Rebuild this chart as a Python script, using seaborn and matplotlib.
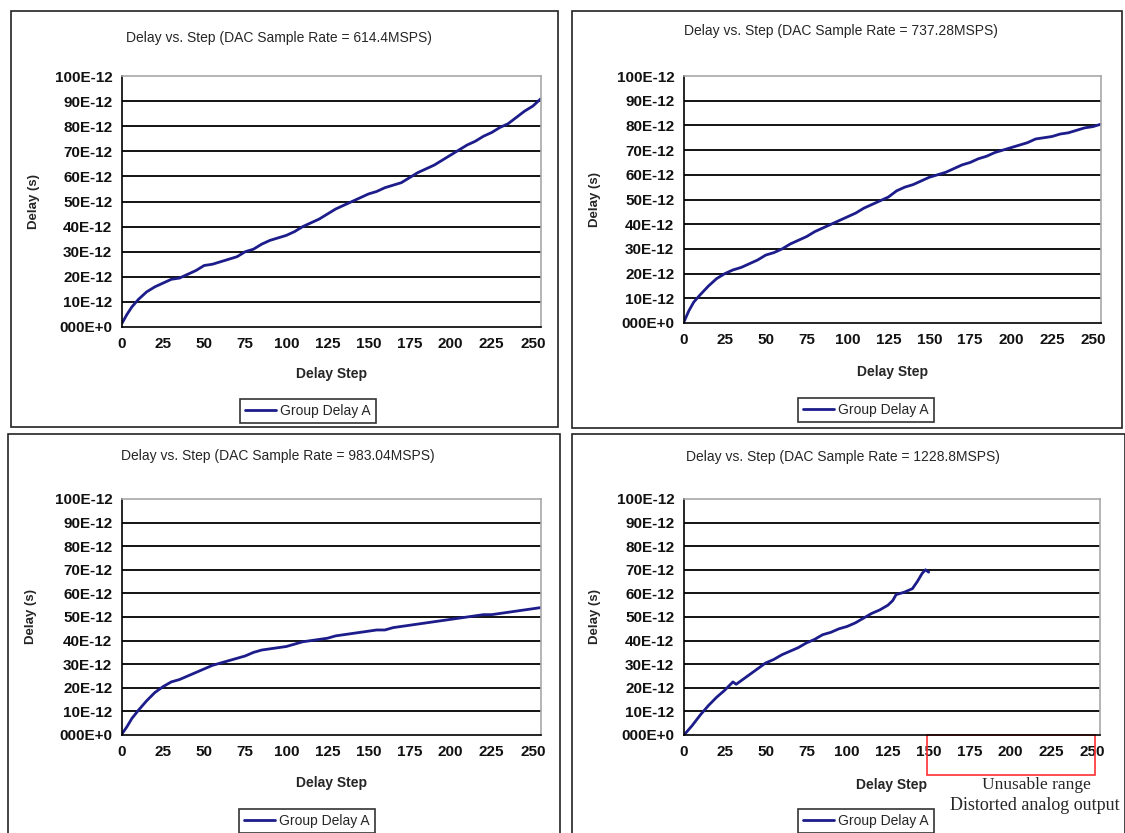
import numpy as np
import pandas as pd
import matplotlib
matplotlib.use("Agg")
import matplotlib.pyplot as plt
import matplotlib.transforms as mtransforms
from matplotlib.patches import Rectangle
import seaborn as sns

# Delay readings in picoseconds, one list pair per DAC sample rate
rate_labels = ["614.4MSPS", "737.28MSPS", "983.04MSPS", "1228.8MSPS"]

steps_a = [0, 3, 6, 10, 15, 20, 25, 30, 35, 40, 45, 50, 55, 60, 65, 70, 75, 80, 85, 90,
           95, 100, 105, 110, 115, 120, 125, 130, 135, 140, 145, 150, 155, 160, 165,
           170, 175, 180, 185, 190, 195, 200, 205, 210, 215, 220, 225, 230, 235, 240,
           245, 250, 255]
delay_614 = [1.5, 5, 8, 11, 14, 16, 17.5, 19, 19.5, 21, 22.5, 24.5, 25, 26, 27, 28, 30,
             31, 33, 34.5, 35.5, 36.5, 38, 40, 41.5, 43, 45, 47, 48.5, 50, 51.5, 53, 54,
             55.5, 56.5, 57.5, 59.5, 61.5, 63, 64.5, 66.5, 68.5, 70.5, 72.5, 74, 76,
             77.5, 79.5, 81, 83.5, 86, 88, 91]
delay_737 = [0.5, 5, 8.5, 11.5, 15, 18, 20, 21.5, 22.5, 24, 25.5, 27.5, 28.5, 30, 32,
             33.5, 35, 37, 38.5, 40, 41.5, 43, 44.5, 46.5, 48, 49.5, 51, 53.5, 55, 56,
             57.5, 59, 60, 61, 62.5, 64, 65, 66.5, 67.5, 69, 70, 71, 72, 73, 74.5, 75,
             75.5, 76.5, 77, 78, 79, 79.5, 80.5]
delay_983 = [0.5, 3.5, 7, 10.5, 14.5, 18, 20.5, 22.5, 23.5, 25, 26.5, 28, 29.5, 30.5,
             31.5, 32.5, 33.5, 35, 36, 36.5, 37, 37.5, 38.5, 39.5, 40, 40.5, 41, 42,
             42.5, 43, 43.5, 44, 44.5, 44.5, 45.5, 46, 46.5, 47, 47.5, 48, 48.5, 49,
             49.5, 50, 50.5, 51, 51, 51.5, 52, 52.5, 53, 53.5, 54]

steps_b = [0, 5, 10, 15, 20, 25, 30, 32, 35, 40, 45, 50, 55, 60, 65, 70, 75, 80, 85, 90,
           95, 100, 105, 110, 115, 120, 125, 128, 130, 135, 140, 143, 146, 148, 150]
delay_1228 = [0, 4, 8.5, 12.5, 16, 19, 22.5, 21.5, 23, 25.5, 28, 30.5, 32, 34, 35.5, 37,
              39, 40.5, 42.5, 43.5, 45, 46, 47.5, 49.5, 51.5, 53, 55, 57, 59.5, 60.5,
              62, 65, 68.5, 70, 69]

x_ticks = [0, 25, 50, 75, 100, 125, 150, 175, 200, 225, 250]
y_ticks_ps = [0, 10, 20, 30, 40, 50, 60, 70, 80, 90, 100]
y_tick_labels = ["000E+0", "10E-12", "20E-12", "30E-12", "40E-12", "50E-12",
                 "60E-12", "70E-12", "80E-12", "90E-12", "100E-12"]

sns.set_style("white")
plt.rcParams["font.family"] = ["Liberation Sans", "DejaVu Sans"]

W, H = 1125, 833
fig = plt.figure(figsize=(W / 100, H / 100), dpi=100)


def fx(px):
    return px / W


def fy(py):
    return 1 - py / H


# pixel layout: axes box (left, top, right, bottom), panel frame, legend centre
panels = [
    dict(rate=rate_labels[0], x=steps_a, y=delay_614, ax=(122, 76, 541, 327),
         frame=(11, 11, 558, 427), title_y=38, xlabel_y=374, leg=(308, 411)),
    dict(rate=rate_labels[1], x=steps_a, y=delay_737, ax=(684, 76, 1101, 323),
         frame=(572, 11, 1122, 428), title_y=31, xlabel_y=372, leg=(866, 410)),
    dict(rate=rate_labels[2], x=steps_a, y=delay_983, ax=(122, 499, 541, 735),
         frame=(8, 434, 560, 850), title_y=456, xlabel_y=783, leg=(307, 821)),
    dict(rate=rate_labels[3], x=steps_b, y=delay_1228, ax=(684, 499, 1100, 735),
         frame=(572, 434, 1125, 850), title_y=457, xlabel_y=785, leg=(866, 821)),
]

line_color = "#1c1c8a"
serif = ["Liberation Serif", "DejaVu Serif"]

for p in panels:
    l, t, r, b = p["ax"]
    ax = fig.add_axes([fx(l), fy(b), fx(r - l), (b - t) / H])

    df = pd.DataFrame({"step": p["x"], "delay": np.array(p["y"]) * 1e-12})
    sns.lineplot(data=df, x="step", y="delay", ax=ax, color=line_color,
                 linewidth=2, label="Group Delay A")

    ax.set_xlim(0, 255)
    ax.set_ylim(0, 100e-12)
    ax.set_xticks(x_ticks)
    ax.set_yticks(np.array(y_ticks_ps) * 1e-12)
    ax.set_yticklabels(y_tick_labels)
    ax.tick_params(axis="both", direction="out", length=4, width=1, color="black",
                   labelsize=11, pad=3)
    for lab in ax.get_xticklabels() + ax.get_yticklabels():
        lab.set_fontweight("bold")
        lab.set_color("#111111")

    for yv in y_ticks_ps[1:-1]:
        ax.axhline(yv * 1e-12, color="black", linewidth=1.3, zorder=1)

    ax.spines["left"].set_color("black")
    ax.spines["bottom"].set_color("black")
    ax.spines["top"].set_color("#a8a8a8")
    ax.spines["right"].set_color("#a8a8a8")
    for s in ax.spines.values():
        s.set_linewidth(1.2)

    ax.set_xlabel("")
    ax.set_ylabel("")
    cx = (l + r) / 2
    fig.text(fx(cx), fy(p["xlabel_y"]), "Delay Step", ha="center", va="center",
             fontsize=10, fontweight="bold")
    fig.text(fx(p["frame"][0] + 23), fy((t + b) / 2), "Delay (s)", ha="center",
             va="center", rotation=90, fontsize=9.5, fontweight="bold")
    fig.text(fx((p["frame"][0] + p["frame"][2]) / 2 - 6), fy(p["title_y"]),
             "Delay vs. Step (DAC Sample Rate = %s)" % p["rate"], ha="center",
             va="center", fontsize=10)

    leg = ax.legend(loc="center", bbox_to_anchor=(fx(p["leg"][0]), fy(p["leg"][1])),
                    bbox_transform=fig.transFigure, frameon=True, fancybox=False,
                    fontsize=10, handlelength=2.2, handletextpad=0.3,
                    borderpad=0.35, borderaxespad=0)
    leg.get_frame().set_edgecolor("black")
    leg.get_frame().set_linewidth(1.2)

    fl, ft, fr, fb = p["frame"]
    fig.add_artist(Rectangle((fx(fl), fy(fb)), fx(fr - fl), (fb - ft) / H,
                             transform=fig.transFigure, fill=False,
                             edgecolor="#222222", linewidth=1.2))

    if p["rate"] == "1228.8MSPS":
        trans = mtransforms.blended_transform_factory(ax.transData, ax.transAxes)
        ax.add_patch(Rectangle((149, -0.17), 103, 0.17, transform=trans, fill=False,
                               edgecolor="#ff3030", linewidth=1.2, clip_on=False))
        fig.text(fx(1036), fy(785), "Unusable range", ha="center", va="center",
                 fontsize=12.5, family=serif)
        fig.text(fx(950), fy(805), "Distorted analog output", ha="left",
                 va="center", fontsize=13, family=serif)

fig.savefig("out.png", dpi=100)
